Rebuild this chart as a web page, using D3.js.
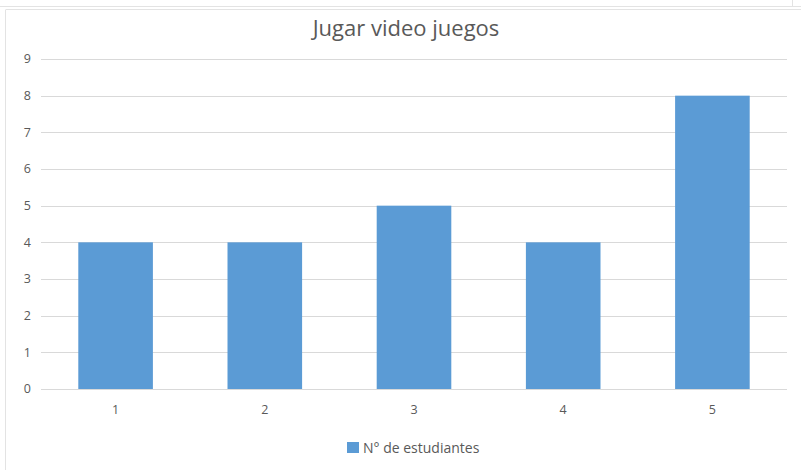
<!DOCTYPE html>
<html><head><meta charset="utf-8">
<script src="https://cdn.jsdelivr.net/npm/d3@7"></script>
<style>body{margin:0;background:#fff}svg{display:block}text{font-family:"Open Sans",sans-serif}</style>
</head><body>
<script>
const categories = ["1","2","3","4","5"];
const values = [4,4,5,4,8];
const yTicks = [0,1,2,3,4,5,6,7,8,9];
const title = "Jugar video juegos";
const seriesName = "N° de estudiantes";

const W=801,H=470;
const svg=d3.select("body").append("svg").attr("width",W).attr("height",H);
// frame lines
svg.append("line").attr("x1",0).attr("x2",W).attr("y1",6.5).attr("y2",6.5).attr("stroke","#e3e3e3");
svg.append("line").attr("x1",6).attr("x2",W).attr("y1",9.5).attr("y2",9.5).attr("stroke","#e3e3e3");
svg.append("line").attr("x1",792.5).attr("x2",792.5).attr("y1",0).attr("y2",6.5).attr("stroke","#e3e3e3");
svg.append("line").attr("x1",5.5).attr("x2",5.5).attr("y1",9.5).attr("y2",H).attr("stroke","#e3e3e3");

const x=d3.scaleBand().domain(categories).range([41,787]).paddingInner(0.5).paddingOuter(0.25);
const y=d3.scaleLinear().domain([0,9]).range([389,59]);

const g=svg.append("g");
g.selectAll("line.grid").data(yTicks).join("line").attr("class","grid")
 .attr("x1",41).attr("x2",787).attr("y1",d=>Math.round(y(d))+0.5).attr("y2",d=>Math.round(y(d))+0.5)
 .attr("stroke","#d9d9d9");
g.selectAll("text.yl").data(yTicks).join("text").attr("class","yl")
 .attr("x",31).attr("y",d=>y(d)).attr("dy","0.35em").attr("text-anchor","end")
 .attr("font-size",12.5).attr("fill","#595959").text(d=>d);
g.selectAll("rect.bar").data(values).join("rect").attr("class","bar")
 .attr("x",(d,i)=>x(categories[i])).attr("width",x.bandwidth())
 .attr("y",d=>y(d)).attr("height",d=>y(0)-y(d)).attr("fill","#5b9bd5");
g.selectAll("text.xl").data(categories).join("text").attr("class","xl")
 .attr("x",d=>x(d)+x.bandwidth()/2).attr("y",414).attr("text-anchor","middle")
 .attr("font-size",12.5).attr("fill","#595959").text(d=>d);
svg.append("text").attr("x",406).attr("y",36).attr("text-anchor","middle")
 .attr("font-size",22).attr("fill","#595959").text(title);
svg.append("rect").attr("x",347).attr("y",442).attr("width",12).attr("height",11).attr("fill","#5b9bd5");
svg.append("text").attr("x",363).attr("y",453).attr("font-size",14).attr("fill","#595959").text(seriesName);
</script>
</body></html>
